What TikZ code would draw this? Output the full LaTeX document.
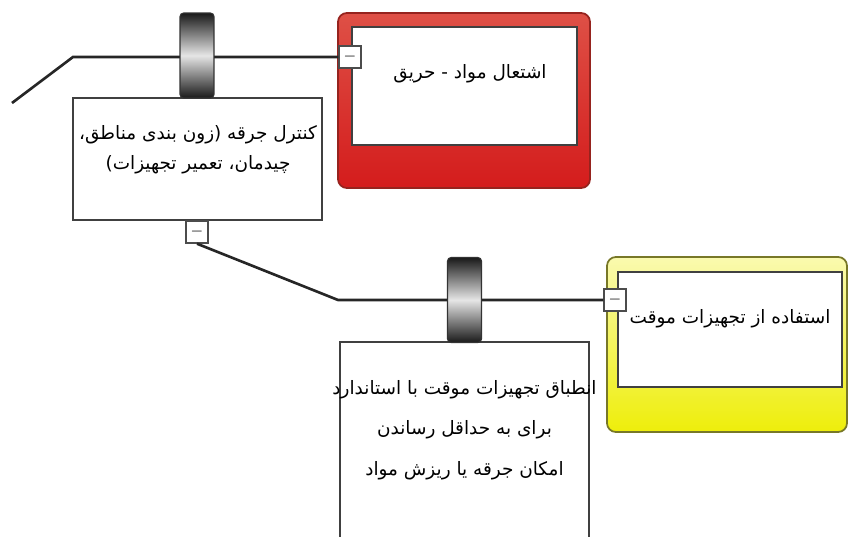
\documentclass[tikz,border=0pt]{standalone}
\usepackage{fontspec}
\newfontfamily\arabicfont[Script=Arabic]{DejaVu Sans}
\TeXXeTstate=1
\usepackage{tikz}

\tikzset{
  wire/.style={line width=1.5pt, black!85},
  plainbox/.style={draw=black!75, line width=1pt, fill=white, inner sep=0pt},
  ring/.style={draw=black!80, line width=0.6pt, rounded corners=2pt,
    top color=black!90, bottom color=black!90, middle color=black!10,
    minimum width=0.68cm, minimum height=1.7cm, inner sep=0pt},
  tab/.style={draw=black!70, line width=0.8pt, fill=white,
    minimum size=0.44cm, inner sep=0pt, font=\small},
  outerbox/.style={rounded corners=5pt, line width=1pt, inner sep=0pt,
    minimum width=#1, minimum height=3.5cm},
  persian/.style={font=\arabicfont\fontsize{10.5}{17}\selectfont, align=center},
}

\begin{document}
\begin{tikzpicture}[x=0.02cm, y=-0.02cm]
    \useasboundingbox (0,0) rectangle (848,537);
    \clip (0,0) rectangle (848,537);

    % coloured boxes
    \node[outerbox=5.04cm, draw={rgb,255:red,150;green,35;blue,30},
      top color={rgb,255:red,222;green,80;blue,70},
      bottom color={rgb,255:red,212;green,28;blue,28}] (fire) at (464,100.5) {};
    \node[plainbox, minimum width=4.5cm, minimum height=2.36cm] (fire in) at (464.5,86) {};
    \node[outerbox=4.8cm, draw={rgb,255:red,120;green,120;blue,40},
      top color={rgb,255:red,250;green,250;blue,175},
      bottom color={rgb,255:red,238;green,238;blue,10}] (equip) at (727,344.5) {};
    \node[plainbox, minimum width=4.48cm, minimum height=2.3cm] (equip in) at (730,329.5) {};

    % white boxes
    \node[plainbox, minimum width=4.98cm, minimum height=2.44cm] (ctrl) at (197.5,159) {};
    \node[plainbox, minimum width=4.98cm, minimum height=4.36cm] (temp) at (464.5,451) {};

    % minus tabs
    \node[tab] (fire tab) at (350,57) {$-$};
    \node[tab] (ctrl tab) at (197,232) {$-$};
    \node[tab] (equip tab) at (615,300) {$-$};

    % connectors
    \coordinate (start) at (12,103);
    \coordinate (bend1) at (73,57);
    \coordinate (bend2) at (338,300);
    \draw[wire] (start) -- (bend1) -- (fire tab.west);
    \draw[wire] (ctrl tab.south) -- (bend2) -- (equip tab.west);

    % rings
    \node[ring] (ring1) at (197,55.5) {};
    \node[ring] (ring2) at (464.5,300) {};

    % texts
    \node[persian] (fire txt) at (470,74) {\beginR اشتعال مواد - حریق\endR};
    \node[persian] (equip txt) at (730,319) {\beginR استفاده از تجهیزات موقت\endR};
    \node[persian] (ctrl txt) at (198,150)
      {\beginR کنترل جرقه (زون بندی مناطق،\endR\\\beginR چیدمان، تعمیر تجهیزات)\endR};
    \node[persian, font=\arabicfont\fontsize{10.5}{23}\selectfont] (temp txt) at (464.5,430)
      {\beginR انطباق تجهیزات موقت با استاندارد\endR\\\beginR برای به حداقل رساندن\endR\\\beginR امکان جرقه یا ریزش مواد\endR};
\end{tikzpicture}
\end{document}
